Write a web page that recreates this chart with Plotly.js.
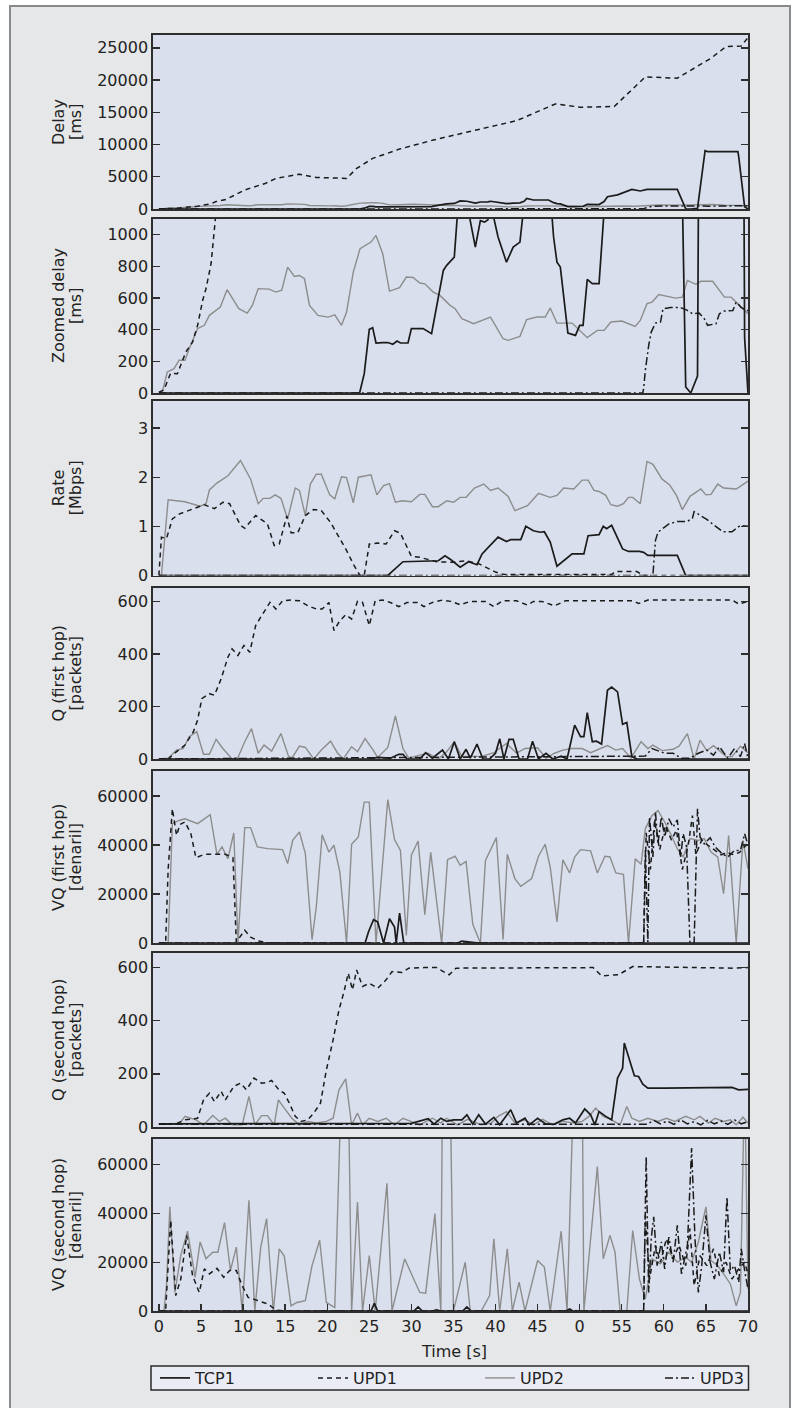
<!DOCTYPE html>
<html><head><meta charset="utf-8">
<script src="https://cdn.plot.ly/plotly-3.0.1.min.js"></script>
<style>html,body{margin:0;padding:0;background:#fff}#chart{width:797px;height:1408px}</style>
</head><body><div id="chart"></div>
<script>
// ---------- DATA (time in s) ----------
// Delay [ms] (panel 1 and zoomed panel 2)
const delayTcpT = [0,23.85,24.4,25.0,25.4,25.8,26.6,27.2,27.8,28.3,28.7,29.6,30.0,31.4,32.4,32.8,33.8,34.2,35.1,35.5,35.8,36.6,37.6,38.2,38.7,39.1,39.4,40.3,41.3,42.1,42.9,43.4,43.7,44.5,46.3,46.9,47.3,47.7,48.6,49.5,50.0,50.4,50.9,51.5,52.3,52.9,53.3,54.5,56.2,57.2,58.0,61.6,62.6,63.2,64.0,64.9,65.2,68.8,68.9,69.6,70];
const delayTcp  = [0,0,122,402,413,316,319,319,308,328,316,316,407,407,375,491,775,807,859,1150,1250,1200,922,1090,1080,1095,1200,986,827,922,954,1200,1650,1400,1400,986,827,796,379,364,428,428,718,691,691,1150,1900,2200,3050,2800,3050,3050,38,0,107,9050,8900,8900,8100,350,0];
const delayUdp1T = [0,0.6,1.4,2.2,3.2,4.0,4.6,5.2,5.6,6.2,6.8,8.0,10.3,12.7,13.9,16.7,18.7,22.3,23.5,25.4,28.6,32.6,38.5,42.5,47.1,50.1,54.1,57.8,61.6,65.6,67.4,69.2,70];
const delayUdp1  = [5,20,126,122,259,322,428,585,660,817,1150,1500,3000,4000,4750,5400,4900,4750,6300,7850,9300,10700,12500,13700,16300,15800,15900,20500,20300,23400,25200,25300,26600];
const delayUdp2T = [0,0.4,1.0,1.8,2.4,3.1,3.6,4.6,5.4,6.0,7.3,8.1,9.5,10.5,11.1,11.8,13.1,13.9,14.6,15.3,16.1,16.7,17.3,17.9,18.9,20.1,20.9,21.7,22.3,23.1,23.9,24.6,25.2,25.8,26.6,27.4,28.6,29.4,30.2,31.0,31.6,32.6,33.4,34.6,35.2,36.0,37.4,39.4,40.9,41.5,42.9,43.7,44.9,45.9,46.5,47.3,49.1,50.9,52.1,52.9,53.7,55.0,56.6,57.2,58.0,58.6,59.4,61.4,62.2,62.8,63.8,64.4,65.8,67.2,68.0,70];
const delayUdp2  = [0,5,133,154,207,207,280,407,428,491,543,653,533,505,554,660,657,638,650,796,737,743,722,554,491,480,494,428,512,764,912,937,954,996,880,644,666,733,730,695,690,638,617,554,533,470,438,480,343,333,358,464,480,480,537,442,442,350,396,396,449,455,421,459,565,575,622,600,606,712,687,706,706,606,606,501];
const delayUdp3T = [0,57.5,57.6,57.8,58.2,58.5,59.0,59.6,59.9,60.8,62.0,62.8,63.4,64.2,64.8,65.2,66.2,66.6,67.2,68.2,68.6,69.2,70];
const delayUdp3  = [0,0,28,143,301,385,442,448,533,540,540,522,501,505,470,428,438,501,518,522,575,540,520];

// Rate [Mbps]
const rateTcpT = [0,27.2,29.0,33.2,34.0,34.7,35.8,36.8,37.8,38.4,40.3,41.3,41.8,43.0,43.6,44.5,45.3,45.8,46.5,47.3,49.1,50.5,51.0,52.3,52.8,53.2,53.8,55.1,55.8,57.1,57.6,58.1,61.6,62.6,70];
const rateTcp  = [0,0,0.28,0.30,0.40,0.32,0.17,0.28,0.22,0.44,0.78,0.69,0.73,0.73,1.0,0.91,0.88,0.89,0.68,0.19,0.44,0.44,0.81,0.83,1.0,0.95,1.02,0.54,0.49,0.49,0.47,0.41,0.41,0,0];
const rateUdp1T = [0,0.3,0.9,1.6,2.4,3.6,5.4,6.6,7.6,8.4,9.7,10.2,11.5,12.9,13.7,14.3,15.2,15.7,16.5,17.4,18.4,19.3,20.4,21.5,22.2,23.2,23.9,24.4,25.0,26.0,27.0,28.0,28.7,30.0,31.0,33.0,35.0,36.5,38.0,40.0,41.0,53.8,54.2,56.8,57.6,70];
const rateUdp1  = [0,0.78,0.75,1.15,1.25,1.33,1.44,1.36,1.49,1.46,1.02,0.96,1.22,1.05,0.61,0.64,1.21,0.87,0.87,1.22,1.34,1.32,1.08,0.75,0.54,0.2,0,0,0.64,0.66,0.64,0.91,0.86,0.39,0.37,0.28,0.27,0.30,0.24,0.07,0.02,0.02,0.08,0.08,0,0];
const rateUdp2T = [0,0.3,1.1,3.1,4.9,5.6,6.0,6.9,8.2,9.7,10.9,11.8,12.4,13.2,13.8,14.5,15.3,16.2,16.7,17.4,18.0,18.7,19.3,20.3,20.9,21.7,22.3,23.1,23.7,25.2,25.9,26.7,27.4,28.1,28.9,30.0,31.0,31.6,32.5,33.2,34.2,35.0,35.8,36.5,37.5,38.6,39.4,40.3,41.5,42.3,43.8,45.1,46.5,47.3,48.1,49.3,50.3,51.0,51.7,52.3,53.1,53.7,54.5,55.2,55.8,56.3,57.2,58.0,58.7,59.8,60.7,61.5,62.2,63.1,64.4,65.0,65.6,66.4,67.1,68.6,70];
const rateUdp2  = [0,0,1.54,1.50,1.41,1.46,1.74,1.88,2.03,2.34,1.96,1.46,1.57,1.57,1.64,1.57,1.15,1.78,1.73,1.22,1.86,2.06,2.06,1.64,1.56,2.01,1.99,1.48,2.0,2.05,1.64,1.83,1.87,1.49,1.52,1.50,1.65,1.65,1.40,1.40,1.52,1.49,1.59,1.59,1.78,1.86,1.73,1.78,1.61,1.32,1.42,1.67,1.59,1.63,1.78,1.76,1.94,1.94,1.73,1.71,1.63,1.44,1.41,1.46,1.59,1.59,1.46,2.32,2.26,1.96,1.84,1.63,1.34,1.61,1.76,1.64,1.65,1.86,1.78,1.76,1.92];
const rateUdp3T = [0,58.7,59.0,59.3,60.6,61.6,62.8,63.4,63.6,65.1,67.0,68.1,69.1,70];
const rateUdp3  = [0,0,0.71,0.88,1.05,1.10,1.10,1.17,1.30,1.14,0.89,0.89,1.02,1.0];

// Q (first hop) [packets]
const q1TcpT = [0,25.0,26.0,27.5,28.5,29.0,29.5,31.0,31.7,32.5,33.7,34.4,35.1,35.8,36.5,37.0,37.8,38.5,39.3,40.0,40.5,41.0,41.6,42.1,42.8,43.8,44.4,45.1,46.0,46.8,47.8,48.5,49.4,50.1,50.5,50.9,51.5,52.0,52.6,53.3,53.8,54.5,55.1,55.6,56.2,56.8,70];
const q1Tcp  = [0,0,6,3,18,18,0,0,24,3,34,0,66,0,37,3,57,0,0,22,77,0,75,75,0,0,68,0,22,0,11,0,129,85,85,177,66,68,57,262,274,256,132,139,9,0,0];
const q1Udp1T = [0,1.1,2.1,3.1,4.1,4.6,5.1,6.0,6.6,7.4,8.2,8.7,9.4,10.1,10.8,11.5,12.2,13.2,13.9,14.7,15.7,16.7,17.7,18.7,19.4,20.2,20.8,21.5,22.2,22.9,23.6,24.2,25.0,25.7,26.6,27.5,28.5,29.5,30.7,31.5,32.5,33.7,34.7,35.8,37.0,38.8,39.8,40.8,42.5,43.8,44.5,45.5,47.0,48.3,56.3,57.0,58.1,68.1,68.9,70];
const q1Udp1  = [0,0,28,53,104,148,230,249,243,306,388,420,395,433,407,509,546,597,572,603,606,603,584,572,572,597,490,527,550,534,601,597,509,603,606,597,581,597,597,581,597,606,601,588,601,601,581,603,603,587,601,601,584,603,603,593,606,606,591,601];
const q1Udp2T = [0,1.1,2.1,2.9,3.6,4.5,5.3,6.0,6.8,7.6,8.7,9.4,10.2,11.0,11.8,12.5,13.4,14.5,15.4,15.8,16.7,17.4,18.4,19.3,20.4,21.2,21.9,22.9,23.6,24.5,25.4,26.0,27.2,28.1,29.0,29.7,31.0,32.0,33.2,34.2,35.1,36.0,37.0,38.3,39.8,41.3,42.5,43.5,45.0,46.0,47.0,48.0,49.1,50.3,51.3,52.3,53.3,54.3,55.1,56.1,57.3,58.1,58.7,59.8,61.1,61.8,62.8,63.6,64.3,65.1,65.9,66.6,67.4,68.1,69.1,70];
const q1Udp2  = [0,3,34,40,85,104,18,18,75,40,0,6,66,116,22,53,30,97,11,3,49,44,0,34,68,24,0,47,28,78,37,6,44,164,40,3,15,22,0,28,66,9,11,9,24,59,22,40,43,3,22,34,40,40,24,37,51,34,40,3,66,40,53,32,37,49,97,0,72,32,51,32,9,9,49,24];
const q1Udp3T = [0,57.8,58.6,59.3,60.1,61.1,62.1,63.1,64.1,65.1,65.9,66.6,67.6,68.4,69.1,69.6,70];
const q1Udp3  = [0,11,40,32,22,22,3,3,22,34,15,47,3,40,9,59,3];

// VQ (first hop) [denaril]
const vq1TcpT = [0,24.5,24.9,25.5,26.0,26.7,27.4,28.0,28.2,28.6,29.1,35.5,36.0,38.0,70];
const vq1Tcp  = [0,0,4500,9500,8600,0,9900,6500,0,12200,0,0,800,0,0];
const vq1Udp1T = [0,0.8,1.1,1.6,2.1,2.5,3.1,3.8,4.4,5.4,7.9,8.8,9.2,10.2,10.9,11.9,12.9,57.6,57.9,58.4,58.9,59.5,60.2,60.9,61.5,62.2,62.9,63.4,63.8,64.5,65.2,66.0,66.8,67.5,68.3,69.0,69.8,70];
const vq1Udp1  = [0,0,30000,54800,43900,48400,49400,44600,34800,36200,36200,34800,400,5200,2400,800,0,0,45000,30000,50000,38000,48000,42000,46000,30000,40000,52000,36000,42000,40000,38000,36000,37000,36000,37000,40000,38000];
const vq1Udp2T = [0,1.1,1.6,2.4,3.1,3.6,4.6,6.1,6.9,7.5,8.2,8.9,9.4,10.2,10.9,11.7,12.9,14.7,15.3,15.9,16.7,17.4,18.2,18.7,19.4,20.2,20.8,21.5,22.3,22.9,23.7,24.4,25.0,25.8,27.2,28.0,28.7,29.4,30.0,30.8,31.6,32.3,33.6,34.3,35.2,35.8,36.5,37.3,38.2,38.8,40.1,40.9,41.4,42.3,43.0,44.3,45.1,45.9,46.5,47.3,48.0,48.8,49.4,50.1,51.3,52.1,53.0,53.6,54.3,55.2,55.8,56.6,57.3,57.8,58.6,59.3,60.1,60.8,61.6,62.3,63.1,64.1,64.8,65.6,66.4,67.1,67.7,68.6,69.4,70];
const vq1Udp2  = [0,0,48700,50000,50700,50000,48700,52400,36200,39200,34400,44900,400,47100,47100,39200,38500,38100,32400,41900,45300,36500,1400,14700,44200,37100,39900,29000,0,40300,43300,57500,57500,0,58500,42200,37800,3100,35800,41600,11600,37000,0,34000,35400,31700,33300,7600,0,33700,43000,1400,36200,26300,23100,26300,35400,40300,31000,8600,34000,28600,35100,38100,37600,28600,35400,35100,28600,28000,0,34400,32100,46700,52100,54100,49400,44600,38500,35100,42600,41900,42600,37100,35100,20100,43900,0,41900,30300];
const vq1Udp3T = [0,57.6,57.8,58.1,58.3,58.7,59.0,59.3,59.7,60.1,60.6,61.1,61.6,62.0,62.3,62.7,63.1,63.6,64.0,64.3,64.8,65.5,66.1,66.9,67.6,68.4,69.1,69.6,70];
const vq1Udp3  = [0,0,37800,400,51400,35100,53500,40500,51400,43300,50700,47300,50300,35100,44600,39200,0,0,54800,43300,40500,43000,39200,36500,35100,37800,37800,44600,39900];

// Q (second hop) [packets]
const q2TcpT = [0,28.0,30.0,32.0,32.7,33.5,34.2,35.0,36.0,36.6,37.3,38.0,38.8,39.8,40.5,41.8,42.5,43.5,44.0,45.0,46.0,47.0,48.0,48.8,49.5,50.6,51.3,51.8,52.3,53.1,53.8,54.5,55.1,55.3,56.0,56.5,57.0,57.5,58.1,60.1,68.1,68.9,70];
const q2Tcp  = [12,12,14,31,11,33,21,27,27,46,11,46,11,36,8,65,15,33,8,33,11,11,27,33,15,68,46,8,58,40,27,184,221,316,240,193,190,161,146,146,149,140,142];
const q2Udp1T = [0,2.0,3.1,4.6,5.3,6.0,6.6,7.4,7.9,8.9,9.7,10.4,11.3,12.2,12.9,13.4,14.2,14.9,15.5,16.2,16.9,17.7,18.4,19.2,19.9,20.7,21.4,22.0,22.5,23.0,23.5,24.2,25.0,26.0,27.0,27.7,28.9,29.7,31.5,33.0,33.8,34.5,35.3,51.6,52.6,54.6,56.3,63.1,68.1,70];
const q2Udp1  = [10,12,27,33,102,127,96,134,102,153,165,140,184,165,168,175,142,127,90,40,21,27,52,90,215,328,441,510,579,516,591,529,541,522,554,585,582,598,600,600,585,573,598,600,569,573,604,601,598,600];
const q2Udp2T = [0,2.4,3.1,4.4,5.3,6.4,7.2,7.9,8.7,9.9,10.7,11.4,12.2,12.9,13.7,14.2,14.9,15.8,16.7,17.7,18.7,19.9,20.7,21.4,22.2,22.9,23.6,24.2,25.0,26.0,27.0,28.0,29.0,30.0,31.0,32.5,33.5,34.2,35.5,36.7,38.3,39.5,40.3,41.3,42.3,43.5,44.5,45.6,46.8,48.0,49.3,50.3,51.1,51.9,52.8,53.8,54.8,55.6,56.2,57.1,58.1,59.3,60.3,61.3,62.6,63.6,64.3,65.3,66.1,67.1,67.9,68.6,69.4,70];
const q2Udp2  = [10,10,40,27,8,43,21,33,8,8,115,8,43,43,8,102,71,33,8,21,15,21,33,140,181,8,52,8,33,21,33,8,33,21,8,33,15,33,8,29,8,15,40,58,15,27,8,29,8,21,15,21,40,71,40,27,8,77,33,21,33,21,33,21,40,27,40,15,33,21,27,8,37,15];
const q2Udp3T = [0,58.0,58.8,59.6,60.4,61.2,62.0,62.8,63.6,64.4,65.2,66.0,66.8,67.6,68.4,69.2,70];
const q2Udp3  = [10,10,25,12,22,10,27,12,20,8,25,12,22,10,27,12,20];

// VQ (second hop) [denaril]
const vq2TcpT = [0,25.2,25.6,26.0,30.3,30.8,31.3,32.5,33.0,33.5,36.1,36.6,37.1,48.4,48.8,49.2,70];
const vq2Tcp  = [0,0,3100,0,0,1700,0,0,500,0,0,1700,0,0,800,0,0];
const vq2Udp1T = [0,0.8,1.4,2.0,2.6,3.3,4.0,4.8,5.4,6.0,6.9,7.7,8.4,9.2,9.9,10.6,11.8,13.0,13.9,14.9,57.6,57.8,58.3,59.0,59.6,60.3,61.1,61.8,62.6,63.1,63.6,64.3,65.1,65.9,66.6,67.4,68.1,68.9,69.6,70];
const vq2Udp1  = [0,0,37200,6300,13100,31000,14500,7600,17300,15200,17500,13800,16600,16600,10400,5600,4200,2800,400,0,0,39200,13100,26900,20000,29600,21400,26900,18600,33800,10400,22700,18600,25500,14500,20000,13100,17300,20000,15200];
const vq2Udp2T = [0,0.6,0.9,1.3,1.9,2.6,3.4,4.3,4.9,5.6,6.4,7.0,7.8,8.5,9.2,9.9,10.7,11.4,12.1,12.8,13.6,14.3,14.9,15.7,16.4,17.4,18.2,19.1,19.9,20.9,21.7,22.5,22.9,23.6,24.2,25.0,25.7,27.1,27.7,29.2,31.0,31.7,32.8,33.5,33.7,34.6,35.0,36.4,37.0,38.3,39.3,39.8,40.5,41.4,42.0,42.8,43.5,45.0,45.8,46.5,47.8,48.5,49.3,50.3,50.5,51.5,52.1,52.8,53.6,54.2,54.8,55.6,56.3,57.1,57.8,58.6,59.6,60.6,61.6,62.6,63.3,64.1,65.0,65.6,66.4,67.1,67.9,68.6,69.1,69.6,70];
const vq2Udp2  = [0,0,10400,42700,7600,22700,32700,13800,28300,21400,24100,24100,36200,16600,26200,0,45400,0,26200,37900,0,25500,22500,2100,3500,4200,18600,29000,3500,1400,95000,95000,0,44700,0,22700,0,52300,0,21400,7600,7300,39900,0,95000,95000,0,20000,0,0,6300,29600,0,25500,0,11800,0,20700,18000,0,32700,0,95000,95000,0,36500,59200,21400,31000,24100,0,0,33000,13100,4900,21400,19300,24100,20000,22100,20000,28300,42700,20700,18600,15200,11100,2100,7600,95000,9000];
const vq2Udp3T = [0,57.6,57.9,58.2,58.5,58.8,59.2,59.7,60.1,60.6,61.1,61.6,62.1,62.8,63.3,63.7,64.1,64.5,65.0,65.5,66.0,66.6,67.1,67.5,67.9,68.4,68.9,69.2,69.6,70];
const vq2Udp3  = [0,0,63300,7600,29600,38600,18600,28300,17300,30300,20000,35100,15200,26900,66800,29600,7600,18600,39200,20000,13100,24100,15900,46800,16600,18600,11800,25500,16600,9000];

// Axis labels
const seriesNames = ['TCP1','UPD1','UPD2','UPD3'];
const xTickVals = [0,5,10,15,20,25,30,35,40,45,50,55,60,65,70];
const xTickText = ['0','5','10','15','20','25','30','35','40','45','0','55','60','65','70'];
const panelTitles = [['Delay','[ms]'],['Zoomed delay','[ms]'],['Rate','[Mbps]'],['Q (first hop)','[packets]'],['VQ (first hop)','[denaril]'],['Q (second hop)','[packets]'],['VQ (second hop)','[denaril]']];
const xTitle = 'Time [s]';

// ---------- LAYOUT ----------
const W = 797, H = 1408, ML = 153, MR = 49, MT = 35, MB = 97;
const PW = W - ML - MR, PH = H - MT - MB;
const px2x = p => (p - ML) / PW;
const py2y = p => (H - MB - p) / PH;

const panelPx = [[35,209],[219,393],[401,575.5],[588,759],[771,943],[953,1127],[1139,1311]];
const panelRange = [[0,27000],[0,1100],[0,3.55],[0,652],[0,70200],[0,655],[0,70500]];
const panelDtick = [5000,200,1,200,20000,200,20000];

const panelSeries = [
  {TCP1:[delayTcpT,delayTcp],UPD1:[delayUdp1T,delayUdp1],UPD2:[delayUdp2T,delayUdp2],UPD3:[delayUdp3T,delayUdp3]},
  {TCP1:[delayTcpT,delayTcp],UPD1:[delayUdp1T,delayUdp1],UPD2:[delayUdp2T,delayUdp2],UPD3:[delayUdp3T,delayUdp3]},
  {TCP1:[rateTcpT,rateTcp],UPD1:[rateUdp1T,rateUdp1],UPD2:[rateUdp2T,rateUdp2],UPD3:[rateUdp3T,rateUdp3]},
  {TCP1:[q1TcpT,q1Tcp],UPD1:[q1Udp1T,q1Udp1],UPD2:[q1Udp2T,q1Udp2],UPD3:[q1Udp3T,q1Udp3]},
  {TCP1:[vq1TcpT,vq1Tcp],UPD1:[vq1Udp1T,vq1Udp1],UPD2:[vq1Udp2T,vq1Udp2],UPD3:[vq1Udp3T,vq1Udp3]},
  {TCP1:[q2TcpT,q2Tcp],UPD1:[q2Udp1T,q2Udp1],UPD2:[q2Udp2T,q2Udp2],UPD3:[q2Udp3T,q2Udp3]},
  {TCP1:[vq2TcpT,vq2Tcp],UPD1:[vq2Udp1T,vq2Udp1],UPD2:[vq2Udp2T,vq2Udp2],UPD3:[vq2Udp3T,vq2Udp3]}
];

const styles = {
  TCP1:{color:'#1b1b1b',width:1.7,dash:'solid'},
  UPD1:{color:'#1b1b1b',width:1.5,dash:'5px,4px'},
  UPD2:{color:'#8d8d8d',width:1.4,dash:'solid'},
  UPD3:{color:'#1b1b1b',width:1.5,dash:'8px,3px,2px,3px'}
};
const legendIds = {TCP1:'legend',UPD1:'legend2',UPD2:'legend3',UPD3:'legend4'};
const legendOriginPx = {TCP1:155,UPD1:313,UPD2:480,UPD3:660};
const drawOrder = ['UPD2','UPD3','UPD1','TCP1'];

const FONT = 'DejaVu Sans, Open Sans, sans-serif';
const TXT = '#222222';
const AX = '#2e2e2e';

const traces = [];
const layout = {
  width: W, height: H,
  margin: {l: ML, r: MR, t: MT, b: MB, pad: 0},
  paper_bgcolor: '#e6e7e9',
  plot_bgcolor: '#d9dfed',
  font: {family: FONT, size: 16, color: TXT},
  showlegend: true,
  annotations: [],
  shapes: []
};

panelSeries.forEach((ser, i) => {
  const n = i + 1;
  const xa = 'x' + (n === 1 ? '' : n), ya = 'y' + (n === 1 ? '' : n);
  drawOrder.forEach(name => {
    const s = styles[name];
    traces.push({
      type: 'scatter', mode: 'lines', name: name,
      x: ser[name][0], y: ser[name][1],
      xaxis: xa, yaxis: ya,
      line: {color: s.color, width: s.width, dash: s.dash},
      showlegend: i === 0, legend: legendIds[name], hoverinfo: 'skip'
    });
  });
  const isBottom = n === panelSeries.length;
  layout['xaxis' + (n === 1 ? '' : n)] = {
    domain: [0, 1], range: [-0.7, 70], anchor: ya,
    showline: true, mirror: true, linecolor: AX, linewidth: 1.7,
    showgrid: false, zeroline: false,
    ticks: isBottom ? 'inside' : '', ticklen: 7, tickwidth: 1.3, tickcolor: AX,
    tickmode: 'array', tickvals: xTickVals, ticktext: xTickText,
    showticklabels: isBottom, tickfont: {family: FONT, size: 16, color: TXT},
    fixedrange: true
  };
  const [ptop, pbot] = panelPx[i];
  layout['yaxis' + (n === 1 ? '' : n)] = {
    domain: [py2y(pbot), py2y(ptop)], range: panelRange[i], anchor: xa,
    showline: true, mirror: 'ticks', linecolor: AX, linewidth: 1.7,
    showgrid: false, zeroline: false,
    ticks: 'inside', ticklen: 7, tickwidth: 1.3, tickcolor: AX,
    tick0: 0, dtick: panelDtick[i], tickformat: 'd',
    tickfont: {family: FONT, size: 16, color: TXT}, fixedrange: true
  };
  const cy = py2y((ptop + pbot) / 2);
  layout.annotations.push({xref:'paper', yref:'paper', x: px2x(58), y: cy, xanchor:'center', yanchor:'middle',
    text: panelTitles[i][0], textangle: -90, showarrow: false, font: {family: FONT, size: 16, color: TXT}});
  layout.annotations.push({xref:'paper', yref:'paper', x: px2x(75), y: cy, xanchor:'center', yanchor:'middle',
    text: panelTitles[i][1], textangle: -90, showarrow: false, font: {family: FONT, size: 16, color: TXT}});
});

// x title
layout.annotations.push({xref:'paper', yref:'paper', x: px2x(453.5), y: py2y(1351), xanchor:'center', yanchor:'middle',
  text: xTitle, showarrow: false, font: {family: FONT, size: 16, color: TXT}});

// legends
seriesNames.forEach(name => {
  layout[legendIds[name]] = {
    x: px2x(legendOriginPx[name]), y: py2y(1378), xanchor: 'left', yanchor: 'middle',
    orientation: 'h', bgcolor: 'rgba(0,0,0,0)', borderwidth: 0,
    font: {family: FONT, size: 16, color: TXT}, itemwidth: 30, tracegroupgap: 0
  };
});

// frame, white outer strips, legend box
layout.shapes.push(
  {type:'rect', xref:'paper', yref:'paper', layer:'below', x0: -0.4, x1: px2x(10), y0: -0.2, y1: 1.2, fillcolor:'#ffffff', line:{width:0}},
  {type:'rect', xref:'paper', yref:'paper', layer:'below', x0: px2x(790), x1: 1.3, y0: -0.2, y1: 1.2, fillcolor:'#ffffff', line:{width:0}},
  {type:'rect', xref:'paper', yref:'paper', layer:'below', x0: -0.4, x1: 1.3, y0: py2y(6), y1: 1.2, fillcolor:'#ffffff', line:{width:0}},
  {type:'rect', xref:'paper', yref:'paper', layer:'below', x0: px2x(10), x1: px2x(790), y0: py2y(1430), y1: py2y(6), fillcolor:'rgba(0,0,0,0)', line:{color:'#8a8a8a', width:2}},
  {type:'rect', xref:'paper', yref:'paper', layer:'below', x0: px2x(151), x1: px2x(748.5), y0: py2y(1390), y1: py2y(1366), fillcolor:'#e9ecf5', line:{color:'#2a2a2a', width:1.5}}
);

Plotly.newPlot('chart', traces, layout, {displayModeBar: false, staticPlot: true});
</script></body></html>
